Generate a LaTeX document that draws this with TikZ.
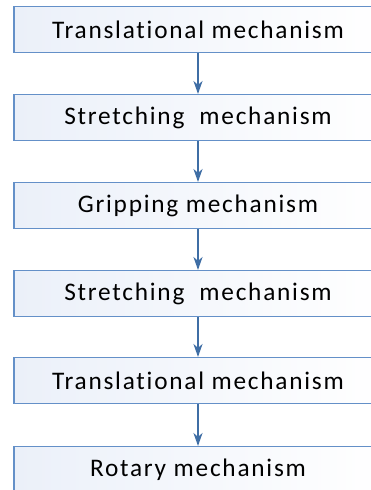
\documentclass[tikz,border=0pt]{standalone}
\usepackage{fontspec}
\setmainfont{Carlito}[LetterSpace=7, Ligatures={NoCommon}]
\usetikzlibrary{arrows.meta}
\definecolor{boxborder}{HTML}{6490C8}
\definecolor{boxfill}{HTML}{EBF0F9}
\definecolor{arrowcol}{HTML}{3F6EA5}
\tikzset{
  mechbox/.style={draw=boxborder, line width=1.3pt, left color=boxfill, right color=white,
    minimum width=368pt, minimum height=46pt, inner sep=0pt, anchor=north,
    font=\fontsize{25.3}{29}\selectfont},
  flowarrow/.style={draw=arrowcol, line width=2.2pt,
    -{Stealth[length=13pt,width=9pt,inset=4pt]}, shorten >=0pt}
}
\begin{document}
\begin{tikzpicture}[x=1pt,y=1pt]
\useasboundingbox (0,0) rectangle (371,-490);
\node[mechbox] (b1) at (198,-6) {Translational mechanism};
\node[mechbox] (b2) at (198,-94) {Stretching\ \ mechanism};
\node[mechbox] (b3) at (198,-182) {Gripping mechanism};
\node[mechbox] (b4) at (198,-270) {Stretching\ \ mechanism};
\node[mechbox] (b5) at (198,-357) {Translational mechanism};
\node[mechbox] (b6) at (198,-446) {Rotary mechanism};
\draw[flowarrow] (b1.south) -- (b2.north);
\draw[flowarrow] (b2.south) -- (b3.north);
\draw[flowarrow] (b3.south) -- (b4.north);
\draw[flowarrow] (b4.south) -- (b5.north);
\draw[flowarrow] (b5.south) -- (b6.north);
\end{tikzpicture}
\end{document}
